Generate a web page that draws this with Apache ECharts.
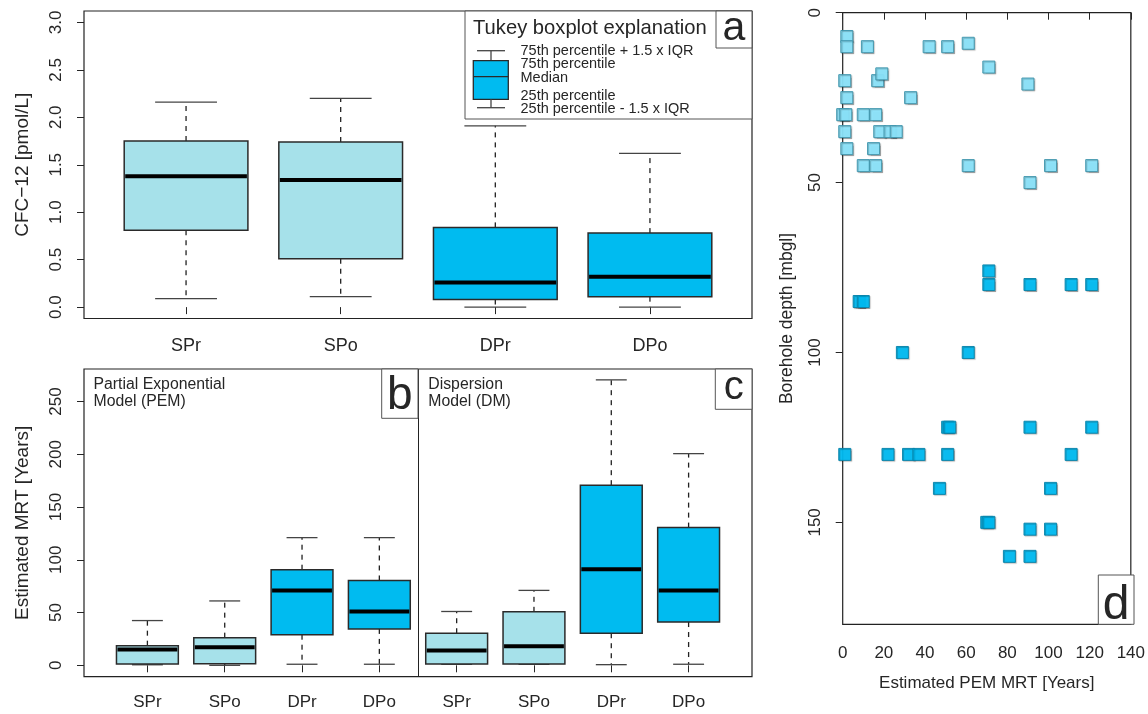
<!DOCTYPE html>
<html>
<head>
<meta charset="utf-8">
<script src="https://cdn.jsdelivr.net/npm/echarts@6/dist/echarts.min.js"></script>
<style>
html,body{margin:0;padding:0;background:#fff;}
#chart{width:1148px;height:714px;}
</style>
</head>
<body>
<div id="chart"></div>
<script>
// ---------- data ----------
const cfcCats = ['SPr', 'SPo', 'DPr', 'DPo'];
const cfcLow  = [0.09, 0.11, 0.00, 0.00];
const cfcQ1   = [0.81, 0.51, 0.08, 0.11];
const cfcMed  = [1.38, 1.34, 0.26, 0.32];
const cfcQ3   = [1.75, 1.74, 0.84, 0.78];
const cfcHigh = [2.16, 2.20, 1.91, 1.62];
const cfcTicks = [0, 0.5, 1, 1.5, 2, 2.5, 3];

const mrtCats = ['SPr', 'SPo', 'DPr', 'DPo', 'SPr', 'SPo', 'DPr', 'DPo'];
// PEM (b) then DM (c)
const mrtLow  = [0.5, 0, 1, 1,    1, 1, 0.6, 1];
const mrtQ1   = [1.2, 1.5, 29, 34.5,   1.2, 1.2, 30.4, 41];
const mrtMed  = [15, 17, 71, 51,   14, 18, 91, 71];
const mrtQ3   = [18.6, 26.2, 90.6, 80.4,   30.4, 50.7, 170.7, 130.5];
const mrtHigh = [42.4, 61, 121, 121,   51, 71, 270.5, 200.6];
const mrtTicks = [0, 50, 100, 150, 200, 250];

const deepFlag = [0, 0, 1, 1];

const shallowPem   = [2, 2, 12, 42, 51, 61, 71, 17, 19, 1, 90, 2, 33, 0, 1.5, 10, 16, 1, 18, 23, 26, 2, 15, 10, 16, 61, 101, 121, 91];
const shallowDepth = [7, 10, 10, 10, 10, 9, 16, 20, 18, 20, 21, 25, 25, 30, 30, 30, 30, 35, 35, 35, 35, 40, 40, 45, 45, 45, 45, 45, 50];
const deepPem   = [71, 71, 91, 111, 121, 8, 10, 29, 61, 51, 52, 91, 121, 1, 22, 32, 37, 51, 111, 47, 101, 70, 71, 91, 101, 81, 91];
const deepDepth = [76, 80, 80, 80, 80, 85, 85, 100, 100, 122, 122, 122, 122, 130, 130, 130, 130, 130, 130, 140, 140, 150, 150, 152, 152, 160, 160];
const pemXTicks = [0, 20, 40, 60, 80, 100, 120, 140];
const depthTicks = [0, 50, 100, 150];

// ---------- styles ----------
const FONT = '"Liberation Sans", Arial, Helvetica, sans-serif';
const TXT = '#262626';
const AX = '#262626';
const SHALLOW = '#A6E1EA';
const DEEP = '#00BBF0';
const PT_LIGHT = '#8AE2F9';
const PT_DARK = '#00BAF1';

const cfcData = cfcCats.map((c, i) => [i + 1, cfcLow[i], cfcQ1[i], cfcMed[i], cfcQ3[i], cfcHigh[i], deepFlag[i]]);
const mrtData = mrtCats.map((c, i) => [i + 1, mrtLow[i], mrtQ1[i], mrtMed[i], mrtQ3[i], mrtHigh[i], deepFlag[i % 4]]);
const shallowData = shallowPem.map((x, i) => [x, shallowDepth[i]]);
const deepData = deepPem.map((x, i) => [x, deepDepth[i]]);

function boxItem(params, api) {
  const x = api.value(0);
  const p = [1, 2, 3, 4, 5].map(k => api.coord([x, api.value(k)]));
  const cx = p[0][0];
  const w = api.size([0.8, 0])[0];
  const half = w / 2, cap = w / 4;
  const yLow = p[0][1], yQ1 = p[1][1], yMed = p[2][1], yQ3 = p[3][1], yHigh = p[4][1];
  const fill = api.value(6) ? DEEP : SHALLOW;
  const ws = { stroke: '#222', lineWidth: 1.3 };
  return {
    type: 'group',
    children: [
      { type: 'line', shape: { x1: cx, y1: yQ3, x2: cx, y2: yHigh }, style: Object.assign({ lineDash: [5, 5] }, ws) },
      { type: 'line', shape: { x1: cx, y1: yQ1, x2: cx, y2: yLow }, style: Object.assign({ lineDash: [5, 5] }, ws) },
      { type: 'line', shape: { x1: cx - cap, y1: yHigh, x2: cx + cap, y2: yHigh }, style: Object.assign({}, ws, { stroke: '#444' }) },
      { type: 'line', shape: { x1: cx - cap, y1: yLow, x2: cx + cap, y2: yLow }, style: Object.assign({}, ws, { stroke: '#444' }) },
      { type: 'rect', shape: { x: cx - half, y: yQ3, width: w, height: yQ1 - yQ3 }, style: { fill: fill, stroke: '#2a2a2a', lineWidth: 1.5 } },
      { type: 'line', shape: { x1: cx - half + 1, y1: yMed, x2: cx + half - 1, y2: yMed }, style: { stroke: '#000', lineWidth: 4 } }
    ]
  };
}

function yAx(grid, min, max, ticks, fmt, name, margin, gap, nameSize, inverse) {
  return {
    type: 'value', gridIndex: grid, min: min, max: max, inverse: !!inverse,
    axisLine: { show: false },
    splitLine: { show: false },
    axisTick: { show: true, length: 7, customValues: ticks, lineStyle: { color: AX, width: 1 } },
    axisLabel: { customValues: ticks, formatter: fmt, rotate: 90, fontSize: 17, fontFamily: FONT, color: TXT, margin: margin },
    name: name, nameLocation: 'middle', nameGap: gap, nameRotate: 90,
    nameTextStyle: { fontSize: nameSize, fontFamily: FONT, color: TXT }
  };
}

function xAx(grid, min, max, ticks, fmt, fontSize, margin, name, gap) {
  const a = {
    type: 'value', gridIndex: grid, min: min, max: max,
    axisLine: { show: false },
    splitLine: { show: false },
    axisTick: { show: true, length: 7, customValues: ticks, lineStyle: { color: AX, width: 1 } },
    axisLabel: { customValues: ticks, formatter: fmt, fontSize: fontSize, fontFamily: FONT, color: TXT, margin: margin }
  };
  if (name) {
    a.name = name; a.nameLocation = 'middle'; a.nameGap = gap;
    a.nameTextStyle = { fontSize: 17, fontFamily: FONT, color: TXT };
  }
  return a;
}

function letterBox(x1, y1, x2, y2, letter, size, baseY) {
  return [
    { type: 'rect', z: 100, shape: { x: x1, y: y1, width: x2 - x1, height: y2 - y1 }, style: { fill: '#fff', stroke: '#555', lineWidth: 1 } },
    { type: 'text', z: 101, x: (x1 + x2) / 2, y: baseY - 0.33 * size, style: { text: letter, font: size + 'px ' + FONT, fill: TXT, align: 'center', verticalAlign: 'middle' } }
  ];
}

const legendLines = ['75th percentile + 1.5 x IQR', '75th percentile', 'Median', '25th percentile', '25th percentile - 1.5 x IQR'];
const legendY = [50.5, 64, 77.5, 95.5, 108.5];

const graphics = [
  // explanation box in panel a
  { type: 'rect', z: 100, shape: { x: 465, y: 11, width: 287, height: 108 }, style: { fill: '#fff', stroke: '#555', lineWidth: 1 } },
  { type: 'text', z: 101, x: 473, y: 28, style: { text: 'Tukey boxplot explanation', font: '20.2px ' + FONT, fill: TXT, verticalAlign: 'middle' } },
  { type: 'line', z: 101, shape: { x1: 477, y1: 50.7, x2: 505, y2: 50.7 }, style: { stroke: '#444', lineWidth: 1.3 } },
  { type: 'line', z: 101, shape: { x1: 491, y1: 50.7, x2: 491, y2: 60.7 }, style: { stroke: '#444', lineWidth: 1.3 } },
  { type: 'rect', z: 101, shape: { x: 473.3, y: 60.7, width: 35, height: 38.6 }, style: { fill: DEEP, stroke: '#2a2a2a', lineWidth: 1.3 } },
  { type: 'line', z: 102, shape: { x1: 473.3, y1: 76.7, x2: 508.3, y2: 76.7 }, style: { stroke: '#2a2a2a', lineWidth: 1.3 } },
  { type: 'line', z: 101, shape: { x1: 491, y1: 99.3, x2: 491, y2: 107.7 }, style: { stroke: '#444', lineWidth: 1.3 } },
  { type: 'line', z: 101, shape: { x1: 477, y1: 107.7, x2: 505, y2: 107.7 }, style: { stroke: '#444', lineWidth: 1.3 } }
].concat(legendLines.map((t, i) => ({
  type: 'text', z: 101, x: 520.5, y: legendY[i],
  style: { text: t, font: '14.5px ' + FONT, fill: TXT, verticalAlign: 'middle' }
}))).concat(
  letterBox(716, 11, 752, 48, 'a', 41, 42),
  letterBox(381.7, 369, 418, 418.3, 'b', 46, 411.5),
  letterBox(715.3, 369, 752, 409.3, 'c', 40, 401.5),
  letterBox(1098.3, 575, 1134, 624.3, 'd', 48, 622),
  [
    { type: 'text', z: 101, x: 93.5, y: 375.5, style: { text: 'Partial Exponential\nModel (PEM)', font: '15.8px ' + FONT, fill: TXT, lineHeight: 17.7, verticalAlign: 'top' } },
    { type: 'text', z: 101, x: 428.3, y: 375.5, style: { text: 'Dispersion\nModel (DM)', font: '15.8px ' + FONT, fill: TXT, lineHeight: 17.7, verticalAlign: 'top' } }
  ]
);

const chart = echarts.init(document.getElementById('chart'), null, { renderer: 'canvas' });
const gridStyle = { show: true, borderColor: '#222', borderWidth: 1.2, backgroundColor: 'transparent', containLabel: false };

chart.setOption({
  backgroundColor: '#fff',
  animation: false,
  textStyle: { fontFamily: FONT },
  grid: [
    Object.assign({ left: 84, top: 11, width: 668, height: 307.5 }, gridStyle),
    Object.assign({ left: 84, top: 369, width: 668, height: 307.7 }, gridStyle),
    Object.assign({ left: 842.7, top: 12.7, width: 291.3, height: 611.6 }, gridStyle)
  ],
  xAxis: [
    xAx(0, 0.34, 4.66, [1, 2, 3, 4], v => cfcCats[Math.round(v) - 1], 18, 19),
    xAx(1, 0.18, 8.82, [1, 2, 3, 4, 5, 6, 7, 8], v => mrtCats[Math.round(v) - 1], 17, 17),
    xAx(2, 0, 140, pemXTicks, v => String(v), 17, 21, 'Estimated PEM MRT [Years]', 51)
  ],
  yAxis: [
    yAx(0, -0.12, 3.12, cfcTicks, v => v.toFixed(1), 'CFC\u221212 [pmol/L]', 19, 52, 19),
    yAx(1, -10.8, 280.8, mrtTicks, v => String(v), 'Estimated MRT [Years]', 19, 52, 19),
    yAx(2, 0, 180, depthTicks, v => String(v), 'Borehole depth [mbgl]', 19, 47, 17.5, true)
  ],
  series: [
    {
      type: 'custom', name: 'CFC-12', xAxisIndex: 0, yAxisIndex: 0,
      renderItem: boxItem, data: cfcData, encode: { x: 0, y: [1, 2, 3, 4, 5] }, clip: false
    },
    {
      type: 'custom', name: 'MRT', xAxisIndex: 1, yAxisIndex: 1,
      renderItem: boxItem, data: mrtData, encode: { x: 0, y: [1, 2, 3, 4, 5] }, clip: false,
      markLine: {
        silent: true, symbol: 'none', label: { show: false },
        lineStyle: { type: 'solid', color: '#222', width: 1 },
        data: [{ xAxis: 4.5 }]
      }
    },
    {
      type: 'scatter', name: 'Shallow', xAxisIndex: 2, yAxisIndex: 2, data: shallowData,
      symbol: 'rect', symbolSize: 12,
      itemStyle: { color: PT_LIGHT, borderColor: '#3E93AB', borderWidth: 1, opacity: 0.95,
        shadowColor: 'rgba(0,0,0,0.25)', shadowBlur: 1, shadowOffsetX: 1, shadowOffsetY: 1 }
    },
    {
      type: 'scatter', name: 'Deep', xAxisIndex: 2, yAxisIndex: 2, data: deepData,
      symbol: 'rect', symbolSize: 12,
      itemStyle: { color: PT_DARK, borderColor: '#0A84AA', borderWidth: 1, opacity: 0.95,
        shadowColor: 'rgba(0,0,0,0.25)', shadowBlur: 1, shadowOffsetX: 1, shadowOffsetY: 1 }
    }
  ],
  graphic: graphics
});
</script>
</body>
</html>
